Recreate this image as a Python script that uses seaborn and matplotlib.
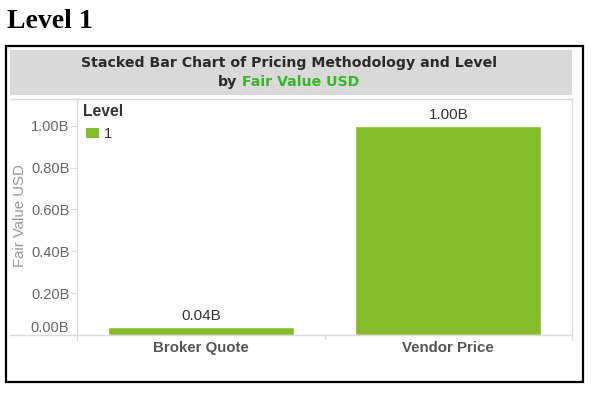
import matplotlib
matplotlib.use("Agg")
import matplotlib.pyplot as plt
import matplotlib.transforms as mtransforms
from matplotlib.patches import Rectangle
import seaborn as sns
import pandas as pd

# ---------------- data ----------------
categories = ["Broker Quote", "Vendor Price"]
fair_value_b = [0.04, 1.00]
levels = ["1", "1"]
ytick_values = [0.0, 0.2, 0.4, 0.6, 0.8, 1.0]
ytick_labels = ["0.00B", "0.20B", "0.40B", "0.60B", "0.80B", "1.00B"]
value_labels = ["0.04B", "1.00B"]

df = pd.DataFrame({"Pricing Methodology": categories,
                   "Fair Value USD": fair_value_b,
                   "Level": levels})

GREEN = "#86bc29"
TITLE_GREEN = "#35b729"
TITLE_SIZE = 10.2

sns.set_style("white")
plt.rcParams["font.family"] = ["Liberation Sans", "DejaVu Sans"]

W, H = 591, 399
fig = plt.figure(figsize=(W / 100, H / 100), dpi=100)


def fx(px):
    return px / W


def fy(py):
    return 1 - py / H


# outer black frame
fig.patches.append(Rectangle((fx(6), fy(382)), (583 - 6) / W, (382 - 46) / H,
                             fill=False, ec="black", lw=1.6,
                             transform=fig.transFigure))
# gray title band
fig.patches.append(Rectangle((fx(10), fy(94.5)), (572 - 10) / W, (94.5 - 50) / H,
                             fc="#d9d9d9", ec="none", transform=fig.transFigure))

# heading
fig.text(fx(7), fy(27.5), "Level 1", family="Liberation Serif",
         fontweight="bold", fontsize=20, va="baseline", ha="left", color="black")

# title line 1
TCX = 289
fig.text(fx(TCX), fy(66.5), "Stacked Bar Chart of Pricing Methodology and Level",
         family="DejaVu Sans", fontweight="bold", fontsize=TITLE_SIZE, ha="center",
         va="baseline", color="#2a2a2a")

# axes
top_px, bot_px, zero_px = 99, 340, 335
ax = fig.add_axes([fx(77), fy(bot_px), fx(572) - fx(77), (bot_px - top_px) / H])
per_b = 209.3
ax.set_ylim(-(bot_px - zero_px) / per_b, (zero_px - top_px) / per_b)

sns.barplot(data=df, x="Pricing Methodology", y="Fair Value USD", hue="Level",
            palette=[GREEN], width=0.75, saturation=1, legend=False, ax=ax)
ax.set_xlim(-0.5, 1.5)

for cont in ax.containers:
    ax.bar_label(cont, labels=value_labels, padding=2.5, fontsize=11, color="#333333")

LINE = "#dadada"
for s in ["bottom", "top"]:
    ax.spines[s].set_visible(False)
for s in ["left", "right"]:
    ax.spines[s].set_color(LINE)
    ax.spines[s].set_linewidth(0.9)

# baseline and top pane line extending to the left edge of the pane
ax.axhline(0, xmin=(10 - 77) / 495, xmax=1, color=LINE, lw=1.0, clip_on=False)
ax.axhline(ax.get_ylim()[1], xmin=(10 - 77) / 495, xmax=1, color=LINE, lw=1.0,
           clip_on=False)
ax.axvline(0.5, ymin=0, ymax=(bot_px - zero_px) / (bot_px - top_px), color=LINE, lw=1.0)

ax.set_yticks(ytick_values, ytick_labels)
ax.tick_params(axis="y", length=4, width=0.8, color=LINE, labelsize=10.5,
               labelcolor="#666666", pad=1.5, left=True)
ax.tick_params(axis="x", length=0, labelsize=10.8, labelcolor="#555555", pad=1)
for lbl in ax.get_xticklabels():
    lbl.set_fontweight("bold")
ax.set_xlabel("")
ax.set_ylabel("Fair Value USD", fontsize=10.8, color="#999999")
ax.yaxis.label.set_va("center")
ax.yaxis.set_label_coords(-0.115, (bot_px - 216) / (bot_px - top_px))

# legend (manual, Tableau style)
fig.text(fx(83), fy(116), "Level", fontsize=11.3, fontweight="bold",
         color="#333333", va="baseline", ha="left")
fig.patches.append(Rectangle((fx(86), fy(138)), 13 / W, 10 / H, fc=GREEN,
                             ec="none", transform=fig.transFigure))
fig.text(fx(104), fy(137.5), levels[0], fontsize=10.5, color="#333333",
         va="baseline", ha="left")

# title line 2 with coloured part
fig.canvas.draw()
r = fig.canvas.get_renderer()
probe_full = fig.text(0, 0, "by Fair Value USD", family="DejaVu Sans",
                      fontweight="bold", fontsize=TITLE_SIZE)
probe_part = fig.text(0, 0, "Fair Value USD", family="DejaVu Sans",
                      fontweight="bold", fontsize=TITLE_SIZE)
w_full = probe_full.get_window_extent(r).width
w_part = probe_part.get_window_extent(r).width
probe_full.remove()
probe_part.remove()
left = TCX - w_full / 2
fig.text(fx(left), fy(86), "by", family="DejaVu Sans", fontweight="bold",
         fontsize=TITLE_SIZE, ha="left", va="baseline", color="#2a2a2a")
fig.text(fx(left + w_full - w_part), fy(86), "Fair Value USD", family="DejaVu Sans",
         fontweight="bold", fontsize=TITLE_SIZE, ha="left", va="baseline",
         color=TITLE_GREEN)

# lift the 0.00B label above the baseline like Tableau does
zero_lbl = ax.get_yticklabels()[0]
zero_lbl.set_transform(zero_lbl.get_transform() +
                       mtransforms.ScaledTranslation(0, 8.5 / 100, fig.dpi_scale_trans))

fig.savefig("out.png", dpi=100)
